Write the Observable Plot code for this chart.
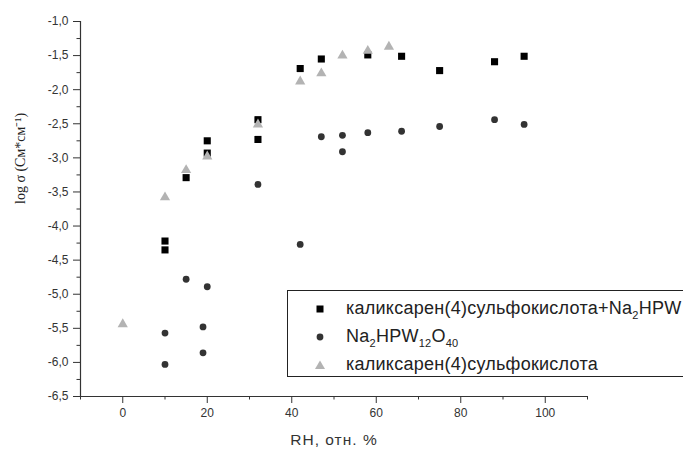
<!DOCTYPE html>
<html>
<head>
<meta charset="utf-8">
<script src="https://cdn.jsdelivr.net/npm/d3@7"></script>
<script src="https://cdn.jsdelivr.net/npm/@observablehq/plot@0.6"></script>
<style>
  html, body { margin: 0; padding: 0; background: #fff; overflow: hidden; width: 683px; height: 450px; }
  #wrap { position: relative; width: 683px; height: 450px; overflow: hidden; }
  #legend { position: absolute; left: 287px; top: 290px; width: 440px; height: 87px;
    border: 1px solid #222; box-sizing: border-box; background: #fff;
    font-family: "Liberation Sans", Arial, sans-serif; font-size: 18px; color: #222; letter-spacing: 0.25px; }
  .row { position: absolute; left: 0; height: 28px; line-height: 28px; white-space: nowrap; }
  .row svg { position: absolute; left: 26px; top: 9px; }
  .row span.t { position: absolute; left: 58px; top: 0; }
  sub { font-size: 11px; vertical-align: -5px; line-height: 0; }
</style>
</head>
<body>
<div id="wrap"></div>
<script>
// Series: каликсарен(4)сульфокислота + Na2HPW12O40 (squares)
const sqRH  = [10, 10, 15, 20, 20, 32, 32, 42, 47, 58, 66, 75, 88, 95];
const sqVal = [-4.22, -4.35, -3.29, -2.75, -2.93, -2.44, -2.73, -1.69, -1.55, -1.49, -1.51, -1.72, -1.59, -1.51];
// Series: Na2HPW12O40 (circles)
const ciRH  = [10, 10, 15, 19, 19, 20, 32, 42, 47, 52, 52, 58, 66, 75, 88, 95];
const ciVal = [-5.57, -6.03, -4.78, -5.48, -5.86, -4.89, -3.39, -4.27, -2.69, -2.67, -2.91, -2.63, -2.61, -2.54, -2.44, -2.51];
// Series: каликсарен(4)сульфокислота (triangles)
const trRH  = [0, 10, 15, 20, 32, 42, 47, 52, 58, 63];
const trVal = [-5.44, -3.58, -3.18, -2.98, -2.51, -1.88, -1.76, -1.50, -1.43, -1.37];

const xTicks = [0, 20, 40, 60, 80, 100];
const xMinor = [-10, 10, 30, 50, 70, 90, 110];
const yTicks = [-6.5, -6.0, -5.5, -5.0, -4.5, -4.0, -3.5, -3.0, -2.5, -2.0, -1.5, -1.0];
const yMinor = [-6.25, -5.75, -5.25, -4.75, -4.25, -3.75, -3.25, -2.75, -2.25, -1.75, -1.25];

const xLabel = "RH, отн. %";
const yLabel = "log σ (Cм*cм⁻¹)";

const toRows = (xs, ys) => xs.map((x, i) => ({x, y: ys[i]}));
const squares = toRows(sqRH, sqVal);
const circles = toRows(ciRH, ciVal);
const triangles = toRows(trRH, trVal);

const axisColor = "#333";

const chart = Plot.plot({
  width: 683,
  height: 450,
  marginLeft: 80,
  marginRight: 96,
  marginTop: 21,
  marginBottom: 54,
  x: {domain: [-10, 110]},
  y: {domain: [-6.5, -1.0]},
  style: {fontFamily: "'Liberation Sans', Arial, sans-serif", fontSize: "12px", color: axisColor, background: "#fff"},
  marks: [
    Plot.axisX({ticks: xTicks, tickSize: 7, tickPadding: 5, label: null, tickFormat: d => String(d), stroke: axisColor, fill: "#333"}),
    Plot.axisX({ticks: xMinor, tickSize: 3.5, text: null, label: null, stroke: axisColor}),
    Plot.axisY({ticks: yTicks, tickSize: 7, tickPadding: 5, label: null,
      tickFormat: d => d.toFixed(1).replace(".", ","), stroke: axisColor, fill: "#333"}),
    Plot.axisY({ticks: yMinor, tickSize: 3.5, text: null, label: null, stroke: axisColor}),
    Plot.ruleX([-10], {stroke: axisColor, strokeWidth: 1.2}),
    Plot.ruleY([-6.5], {stroke: axisColor, strokeWidth: 1.2}),
    Plot.dot(circles, {x: "x", y: "y", symbol: "circle", r: 3.4, fill: "#333", stroke: null}),
    Plot.dot(squares, {x: "x", y: "y", symbol: "square", r: 4, fill: "#000", stroke: null}),
    Plot.dot(triangles, {x: "x", y: "y", symbol: "triangle", r: 3.8, fill: "#b3b3b3", stroke: null}),
    Plot.text([xLabel], {frameAnchor: "bottom", dy: 44, fontSize: 15.5, fill: "#333", lineAnchor: "middle"}),
    Plot.text([yLabel], {frameAnchor: "left", dx: -60, dy: -5, rotate: -90, fontSize: 14, fill: "#222",
      fontFamily: "'Liberation Serif', 'Times New Roman', serif", lineAnchor: "middle"})
  ]
});

const wrap = document.getElementById("wrap");
wrap.appendChild(chart);
chart.querySelectorAll("text").forEach(t => {
  if (t.textContent === xLabel) t.setAttribute("letter-spacing", "1");
});

const legend = document.createElement("div");
legend.id = "legend";
legend.innerHTML = `
  <div class="row" style="top:3px"><svg width="12" height="12"><rect x="2.5" y="2.5" width="7" height="7" fill="#000"/></svg><span class="t">каликсарен(4)сульфокислота+Na<sub>2</sub>HPW</span></div>
  <div class="row" style="top:31px"><svg width="12" height="12"><circle cx="6" cy="6" r="3.4" fill="#333"/></svg><span class="t">Na<sub>2</sub>HPW<sub>12</sub>O<sub>40</sub></span></div>
  <div class="row" style="top:59px"><svg width="12" height="12"><path d="M6,1.5 L11,10 L1,10 Z" fill="#b3b3b3"/></svg><span class="t">каликсарен(4)сульфокислота</span></div>
`;
wrap.appendChild(legend);
</script>
</body>
</html>
